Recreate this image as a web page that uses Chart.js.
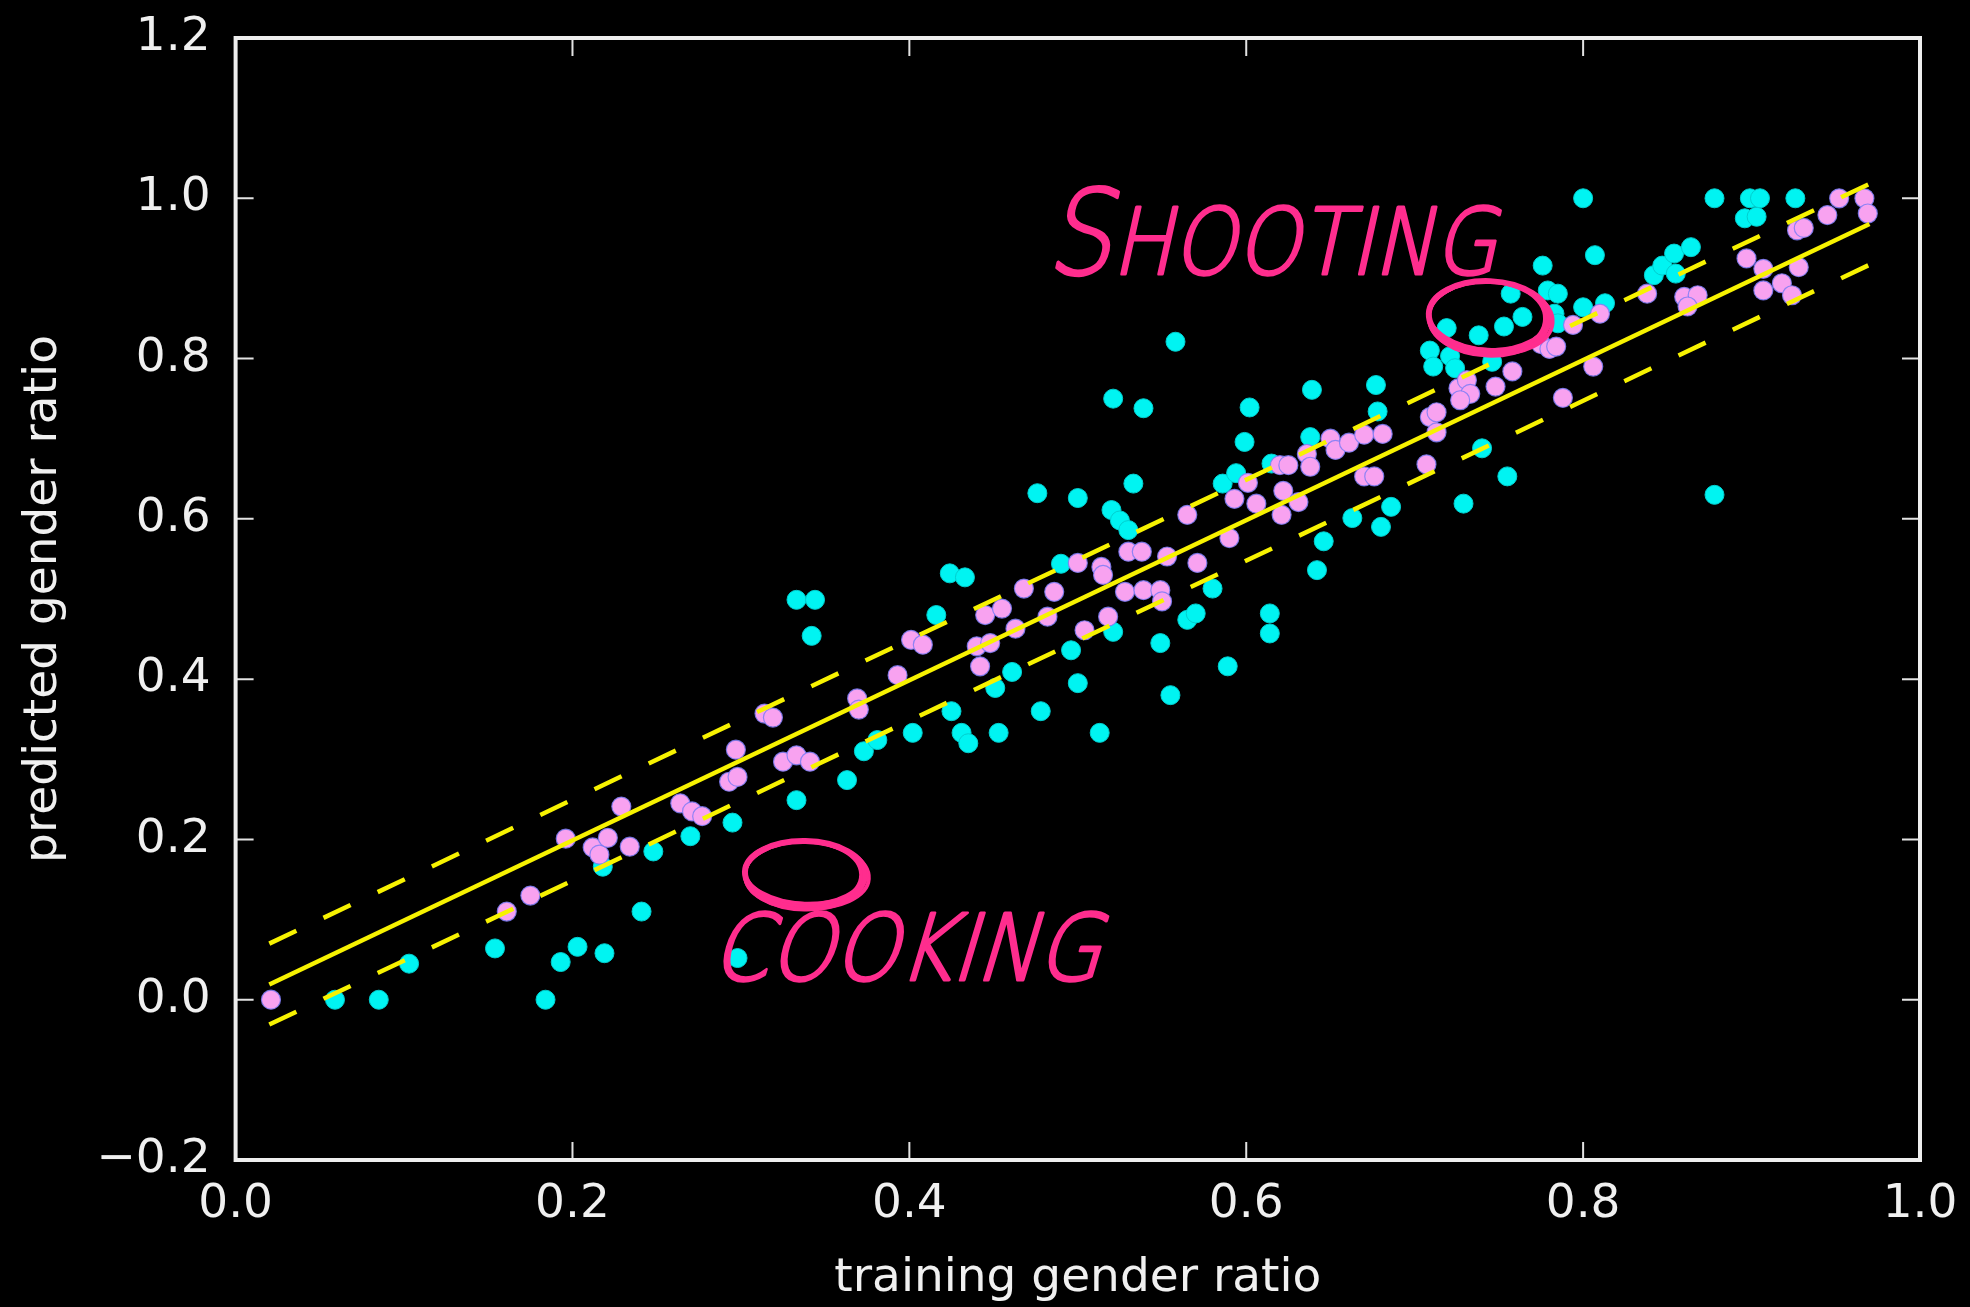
<!DOCTYPE html>
<html>
<head>
<meta charset="utf-8">
<script src="https://cdn.jsdelivr.net/npm/chart.js@4.4.1/dist/chart.umd.min.js"></script>
<style>
  html, body { margin: 0; padding: 0; background: #000; }
  #wrap { width: 1970px; height: 1307px; position: relative; }
</style>
</head>
<body>
<div id="wrap"><canvas id="chart"></canvas></div>
<script>
// ---- data: training vs predicted gender ratio per verb ----
const pinkX = [
  0.021, 0.161, 0.175, 0.196, 0.212, 0.216, 0.221, 0.229, 0.234,
  0.264, 0.271, 0.277, 0.293, 0.298, 0.297, 0.325, 0.333, 0.341, 0.314,
  0.319, 0.369, 0.370, 0.393, 0.401, 0.408, 0.445, 0.455, 0.440, 0.448,
  0.442, 0.463, 0.468, 0.482, 0.486, 0.500, 0.504, 0.514, 0.515, 0.518,
  0.530, 0.538, 0.528, 0.539, 0.549, 0.550, 0.553, 0.571, 0.565, 0.590,
  0.593, 0.601, 0.606, 0.621, 0.622, 0.631, 0.620, 0.625, 0.636, 0.638,
  0.650, 0.653, 0.661, 0.670, 0.681, 0.670, 0.676, 0.707, 0.709, 0.713,
  0.713, 0.726, 0.731, 0.733, 0.727, 0.748, 0.758, 0.775, 0.780, 0.784,
  0.794, 0.788, 0.806, 0.810, 0.838, 0.860, 0.868, 0.862, 0.897, 0.907,
  0.928, 0.907, 0.918, 0.924, 0.927, 0.931, 0.945, 0.952, 0.967, 0.969
];
const pinkY = [
  0.000, 0.110, 0.130, 0.201, 0.190, 0.181, 0.202, 0.241, 0.191,
  0.245, 0.235, 0.229, 0.272, 0.278, 0.312, 0.297, 0.305, 0.297, 0.357,
  0.352, 0.376, 0.362, 0.405, 0.449, 0.443, 0.480, 0.488, 0.441, 0.445,
  0.416, 0.463, 0.513, 0.478, 0.509, 0.545, 0.461, 0.540, 0.530, 0.478,
  0.559, 0.559, 0.509, 0.511, 0.511, 0.497, 0.553, 0.545, 0.605, 0.576,
  0.625, 0.645, 0.619, 0.605, 0.635, 0.621, 0.667, 0.667, 0.681, 0.665,
  0.700, 0.686, 0.695, 0.705, 0.706, 0.653, 0.653, 0.668, 0.727, 0.733,
  0.708, 0.763, 0.773, 0.756, 0.748, 0.765, 0.784, 0.818, 0.812, 0.815,
  0.842, 0.751, 0.790, 0.856, 0.881, 0.877, 0.879, 0.865, 0.925, 0.912,
  0.914, 0.885, 0.894, 0.879, 0.960, 0.963, 0.979, 1.000, 1.000, 0.981
];
const cyanX = [
  0.059, 0.085, 0.103, 0.154, 0.184, 0.193, 0.203, 0.219, 0.218, 0.241,
  0.248, 0.270, 0.295, 0.298, 0.333, 0.363, 0.333, 0.344, 0.342, 0.373,
  0.381, 0.402, 0.416, 0.424, 0.433, 0.425, 0.431, 0.435, 0.453, 0.461,
  0.451, 0.476, 0.500, 0.478, 0.513, 0.500, 0.496, 0.521, 0.490, 0.520,
  0.525, 0.530, 0.533, 0.521, 0.539, 0.558, 0.549, 0.555, 0.565, 0.570,
  0.580, 0.589, 0.614, 0.614, 0.586, 0.594, 0.599, 0.602, 0.615, 0.638,
  0.639, 0.642, 0.646, 0.663, 0.680, 0.686, 0.677, 0.678, 0.709, 0.711,
  0.721, 0.724, 0.719, 0.729, 0.738, 0.740, 0.746, 0.753, 0.755, 0.757,
  0.764, 0.776, 0.779, 0.785, 0.783, 0.785, 0.800, 0.813, 0.800, 0.807,
  0.842, 0.847, 0.854, 0.855, 0.864, 0.878, 0.878, 0.896, 0.903, 0.899,
  0.905, 0.926
];
const cyanY = [
  0.000, 0.000, 0.045, 0.064, 0.000, 0.047, 0.066, 0.058, 0.166, 0.110,
  0.185, 0.204, 0.221, 0.052, 0.249, 0.274, 0.499, 0.499, 0.454, 0.310,
  0.324, 0.333, 0.480, 0.532, 0.527, 0.360, 0.333, 0.320, 0.333, 0.409,
  0.389, 0.632, 0.626, 0.360, 0.333, 0.395, 0.436, 0.459, 0.544, 0.611,
  0.598, 0.586, 0.644, 0.750, 0.738, 0.821, 0.445, 0.380, 0.474, 0.482,
  0.513, 0.416, 0.482, 0.457, 0.644, 0.657, 0.696, 0.739, 0.669, 0.702,
  0.761, 0.536, 0.572, 0.601, 0.590, 0.615, 0.767, 0.734, 0.810, 0.790,
  0.803, 0.788, 0.838, 0.619, 0.829, 0.688, 0.796, 0.840, 0.653, 0.881,
  0.852, 0.916, 0.885, 0.881, 0.856, 0.844, 0.864, 0.869, 1.000, 0.929,
  0.904, 0.916, 0.931, 0.906, 0.939, 1.000, 0.630, 0.975, 0.977, 1.000,
  1.000, 1.000
];

// fitted line and its +/- band
const fitX   = [0.02, 0.97];
const fitY   = [0.019, 0.968];
const upperY = [0.070, 1.018];
const lowerY = [-0.031, 0.917];

// axis ticks
const xTicks = [0.0, 0.2, 0.4, 0.6, 0.8, 1.0];
const xTickLabels = ['0.0', '0.2', '0.4', '0.6', '0.8', '1.0'];
const yTicks = [-0.2, 0.0, 0.2, 0.4, 0.6, 0.8, 1.0, 1.2];
const yTickLabels = ['\u22120.2', '0.0', '0.2', '0.4', '0.6', '0.8', '1.0', '1.2'];

const zip = (xs, ys) => xs.map((x, i) => ({ x: x, y: ys[i] }));

const FG = '#f0f0f0';
const FONT = 'DejaVu Sans';

// keep label overhang from shrinking the plot box
function noOverhang(s) {
  s.paddingTop = 0; s.paddingBottom = 0; s.paddingLeft = 0; s.paddingRight = 0;
}

// inward tick marks on all four sides plus a closed frame
const framePlugin = {
  id: 'frameTicks',
  afterDatasetsDraw(chart) {
    const { ctx, chartArea: a, scales } = chart;
    const len = 18;
    ctx.save();
    ctx.strokeStyle = '#e2e2e2';
    ctx.lineWidth = 2;
    ctx.beginPath();
    xTicks.forEach(v => {
      const px = scales.x.getPixelForValue(v);
      ctx.moveTo(px, a.bottom); ctx.lineTo(px, a.bottom - len);
      ctx.moveTo(px, a.top);    ctx.lineTo(px, a.top + len);
    });
    yTicks.forEach(v => {
      const py = scales.y.getPixelForValue(v);
      ctx.moveTo(a.left, py);  ctx.lineTo(a.left + len, py);
      ctx.moveTo(a.right, py); ctx.lineTo(a.right - len, py);
    });
    ctx.stroke();
    ctx.strokeStyle = '#eeeeee';
    ctx.lineWidth = 4;
    ctx.strokeRect(a.left, a.top, a.right - a.left, a.bottom - a.top);
    ctx.restore();
  }
};

// hand-lettered call-outs with loose ellipses
const notePlugin = {
  id: 'callouts',
  afterDatasetsDraw(chart, args, opts) {
    const { ctx, scales } = chart;
    ctx.save();
    ctx.fillStyle = opts.color;
    ctx.strokeStyle = opts.color;
    ctx.lineCap = 'round';
    ctx.lineJoin = 'round';
    opts.rings.forEach(r => {
      const cx = scales.x.getPixelForValue(r.x);
      const cy = scales.y.getPixelForValue(r.y);
      [[0, 0, 6, 0.00], [2, 3, 4, 0.05], [-2, 4, 3.5, -0.03], [1, -2, 3, 0.02], [0, 5, 4, 0.0]].forEach(p => {
        ctx.lineWidth = p[2];
        ctx.beginPath();
        ctx.ellipse(cx + p[0], cy + p[1] * 0.5, r.rx + p[0], r.ry + p[1] * 0.4, r.rot + p[3], 0, Math.PI * 2);
        ctx.stroke();
      });
    });
    opts.words.forEach(w => {
      let x = scales.x.getPixelForValue(w.x);
      const y = scales.y.getPixelForValue(w.y);
      w.parts.forEach(part => {
        ctx.save();
        ctx.font = `200 ${part.size}px "DejaVu Sans"`;
        ctx.setTransform(w.squeeze, 0, -w.slant, 1, x, y);
        ctx.textBaseline = 'alphabetic';
        ctx.lineWidth = 3;
        ctx.fillText(part.text, 0, 0);
        ctx.strokeText(part.text, 0, 0);
        const wdt = ctx.measureText(part.text).width * w.squeeze;
        ctx.restore();
        x += wdt;
      });
    });
    ctx.restore();
  }
};

new Chart(document.getElementById('chart'), {
  type: 'scatter',
  data: {
    datasets: [
      { type: 'line', data: zip(fitX, fitY), borderColor: '#f7f200', borderWidth: 4.5,
        pointRadius: 0, fill: false, showLine: true },
      { type: 'line', data: zip(fitX, upperY), borderColor: '#f7f200', borderWidth: 4.5,
        borderDash: [30, 30], pointRadius: 0, fill: false, showLine: true },
      { type: 'line', data: zip(fitX, lowerY), borderColor: '#f7f200', borderWidth: 4.5,
        borderDash: [30, 30], pointRadius: 0, fill: false, showLine: true },
      { data: zip(pinkX, pinkY), backgroundColor: '#f8a2f0', borderColor: 'rgba(125,125,245,0.85)',
        borderWidth: 1.2, pointRadius: 9.5, pointHoverRadius: 9.5 },
      { data: zip(cyanX, cyanY), backgroundColor: '#00f4f2', borderColor: '#00cfcf',
        borderWidth: 1, pointRadius: 9.5, pointHoverRadius: 9.5 }
    ]
  },
  options: {
    responsive: true,
    maintainAspectRatio: false,
    animation: false,
    events: [],
    layout: { padding: { top: 38, right: 50, bottom: 0, left: 0 } },
    plugins: {
      legend: { display: false },
      tooltip: { enabled: false },
      callouts: {
        color: '#ff2d8e',
        rings: [
          { x: 0.744, y: 0.853, rx: 60, ry: 35, rot: 0.04 },
          { x: 0.338, y: 0.158, rx: 60, ry: 32, rot: 0.02 }
        ],
        words: [
          { x: 0.481, y: 0.905, slant: 0.22, squeeze: 0.88,
            parts: [{ text: 'S', size: 118 }, { text: 'HOOTING', size: 92 }] },
          { x: 0.282, y: 0.025, slant: 0.30, squeeze: 0.89,
            parts: [{ text: 'COOKING', size: 92 }] }
        ]
      }
    },
    scales: {
      x: {
        type: 'linear', min: 0, max: 1,
        afterFit(s) { s.height = 147; noOverhang(s); },
        afterBuildTicks(s) { s.ticks = xTicks.map(v => ({ value: v })); },
        grid: { display: false, drawTicks: false },
        border: { display: false },
        ticks: { color: FG, font: { family: FONT, size: 47 }, padding: 17, maxRotation: 0,
                 callback: (v, i) => xTickLabels[i] },
        title: { display: true, text: 'training gender ratio', color: FG,
                 font: { family: FONT, size: 47 }, padding: { top: 0, bottom: 0 } }
      },
      y: {
        type: 'linear', min: -0.2, max: 1.2,
        afterFit(s) { s.width = 235.6; noOverhang(s); },
        afterBuildTicks(s) { s.ticks = yTicks.map(v => ({ value: v })); },
        grid: { display: false, drawTicks: false },
        border: { display: false },
        ticks: { color: FG, font: { family: FONT, size: 47 }, padding: 25,
                 callback: (v, i) => yTickLabels[i] },
        title: { display: true, text: 'predicted gender ratio', color: FG,
                 font: { family: FONT, size: 47 }, padding: { top: 16, bottom: 0 } }
      }
    }
  },
  plugins: [framePlugin, notePlugin]
});
</script>
</body>
</html>
